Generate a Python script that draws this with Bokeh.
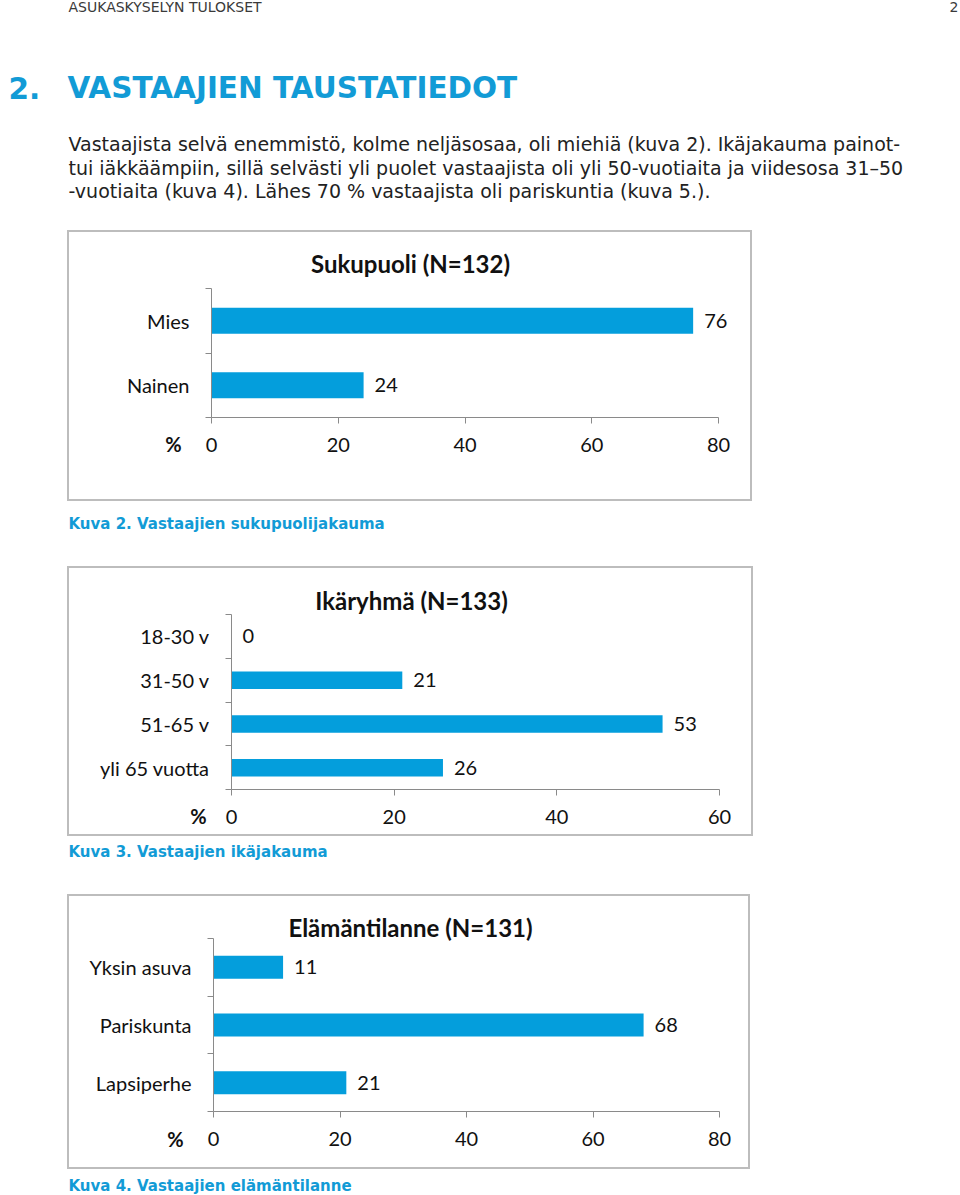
from bokeh.plotting import figure
from bokeh.models import Range1d, FixedTicker, Label, LabelSet, ColumnDataSource, Spacer
from bokeh.layouts import column, row
from bokeh.embed import file_html
from bokeh.resources import INLINE
from bokeh.core.properties import value

# ---------------- data ----------------
header_left = "ASUKASKYSELYN TULOKSET"
page_number = "2"
heading_number = "2."
heading_text = "VASTAAJIEN TAUSTATIEDOT"
paragraph_lines = [
    "Vastaajista selvä enemmistö, kolme neljäsosaa, oli miehiä (kuva 2). Ikäjakauma painot-",
    "tui iäkkäämpiin, sillä selvästi yli puolet vastaajista oli yli 50-vuotiaita ja viidesosa 31\u201350",
    "-vuotiaita (kuva 4). Lähes 70 % vastaajista oli pariskuntia (kuva 5.).",
]

gender_title = "Sukupuoli (N=132)"
gender_categories = ["Mies", "Nainen"]
gender_values = [76, 24]
gender_ticks = [0, 20, 40, 60, 80]
gender_caption = "Kuva 2. Vastaajien sukupuolijakauma"

age_title = "Ikäryhmä (N=133)"
age_categories = ["18-30 v", "31-50 v", "51-65 v", "yli 65 vuotta"]
age_values = [0, 21, 53, 26]
age_ticks = [0, 20, 40, 60]
age_caption = "Kuva 3. Vastaajien ikäjakauma"

life_title = "Elämäntilanne (N=131)"
life_categories = ["Yksin asuva", "Pariskunta", "Lapsiperhe"]
life_values = [11, 68, 21]
life_ticks = [0, 20, 40, 60, 80]
life_caption = "Kuva 4. Vastaajien elämäntilanne"

axis_unit = "%"

# ---------------- style ----------------
BAR = "#049EDC"
BLUE = "#129BD6"
AXIS = "#8A8A8A"
BOX = "#BDBDBD"
INK = "#111111"
CHART_FONT = "Lato"
DOC_FONT = "DejaVu Sans"
PAGE_W = 960
BW = 2  # box border width


def text_fig(h):
    p = figure(width=PAGE_W, height=h, x_range=Range1d(0, PAGE_W), y_range=Range1d(h, 0),
               output_backend="svg", toolbar_location=None,
               x_axis_location=None, y_axis_location=None, min_border=0)
    p.grid.visible = False
    p.outline_line_color = None
    p.background_fill_color = "white"
    p.border_fill_color = "white"
    return p


# ---------------- header ----------------
header = text_fig(230)
header.text(x=[68], y=[6], text=[header_left], text_font=value(DOC_FONT),
            text_font_size="14px", text_color="#3a3a3a", text_baseline="middle")
header.text(x=[958], y=[6], text=[page_number], text_font=value(DOC_FONT),
            text_font_size="14px", text_color="#3a3a3a", text_baseline="middle",
            text_align="right")
header.text(x=[8], y=[87], text=[heading_number], text_font=value(DOC_FONT),
            text_font_size="29.5px", text_font_style="bold", text_color=BLUE,
            text_baseline="middle")
header.text(x=[67], y=[87], text=[heading_text], text_font=value(DOC_FONT),
            text_font_size="29.5px", text_font_style="bold", text_color=BLUE,
            text_baseline="middle")
header.text(x=[68] * len(paragraph_lines), y=[143, 167, 190], text=paragraph_lines,
            text_font=value(DOC_FONT), text_font_size="19px", text_color="#222222",
            text_baseline="middle")


def caption_fig(h, cy, txt):
    p = text_fig(h)
    p.text(x=[68], y=[cy], text=[txt], text_font=value(DOC_FONT), text_font_size="15px",
           text_font_style="bold", text_color=BLUE, text_baseline="middle")
    return p


def bar_chart(title, cats, vals, ticks, box, frame, title_xy, pct_xy):
    """box = (left, top, right, bottom) outer page px; frame = (x0, x1, ytop, yaxis) page px"""
    bl, bt, br, bb = box
    fw, fh = br - bl, bb - bt
    ox, oy = bl + BW, bt + BW          # canvas origin on the page
    cw, ch = fw, fh                    # canvas size (clipped inside the border)
    n = len(cats)
    tmin, tmax = ticks[0], ticks[-1]
    fx0, fx1 = frame[0] - ox, frame[1] - ox
    ft, fb = frame[2] - oy, frame[3] - oy
    sx = (fx1 - fx0) / (tmax - tmin)
    sy = (fb - ft) / n
    xr = Range1d(tmin - fx0 / sx, tmax + (cw - fx1) / sx)
    yr = Range1d(-(ch - fb) / sy, n + ft / sy)

    ypos = [n - 1 - i + 0.5 for i in range(n)]
    p = figure(width=fw, height=fh, output_backend="svg", toolbar_location=None,
               x_range=xr, y_range=yr, min_border=0)
    p.outline_line_color = None
    p.grid.visible = False
    p.background_fill_color = "white"
    p.border_fill_color = "white"
    src = ColumnDataSource(dict(y=ypos, v=vals, label=[str(v) for v in vals]))
    p.hbar(y="y", right="v", left=0, height=0.4, source=src,
           fill_color=BAR, line_color=None)
    p.add_layout(LabelSet(x="v", y="y", text="label", source=src, x_offset=11,
                          text_baseline="middle", text_font=value(CHART_FONT),
                          text_font_size="20px", text_color=INK))
    xa = p.xaxis[0]
    xa.fixed_location = 0
    xa.bounds = (tmin, tmax)
    xa.ticker = FixedTicker(ticks=ticks)
    xa.axis_line_color = AXIS
    xa.major_tick_line_color = AXIS
    xa.major_tick_in = 0
    xa.major_tick_out = 6
    xa.minor_tick_line_color = None
    xa.major_label_text_font = CHART_FONT
    xa.major_label_text_font_size = "20px"
    xa.major_label_text_color = INK
    xa.major_label_standoff = 14
    ya = p.yaxis[0]
    ya.fixed_location = 0
    ya.bounds = (0, n)
    ya.ticker = FixedTicker(ticks=ypos, minor_ticks=list(range(n + 1)))
    ya.major_label_overrides = {y: c for y, c in zip(ypos, cats)}
    ya.axis_line_color = AXIS
    ya.major_tick_line_color = None
    ya.major_tick_in = 0
    ya.major_tick_out = 0
    ya.minor_tick_line_color = AXIS
    ya.minor_tick_in = 0
    ya.minor_tick_out = 6
    ya.major_label_text_font = CHART_FONT
    ya.major_label_text_font_size = "20px"
    ya.major_label_text_color = INK
    ya.major_label_standoff = 16
    p.add_layout(Label(x=title_xy[0] - ox, y=ch - (title_xy[1] - oy),
                       x_units="screen", y_units="screen",
                       text=title, text_align="center", text_baseline="middle",
                       text_font=CHART_FONT, text_font_size="24px",
                       text_font_style="bold", text_color=INK))
    p.add_layout(Label(x=pct_xy[0] - ox, y=ch - (pct_xy[1] - oy),
                       x_units="screen", y_units="screen",
                       text=axis_unit, text_align="center", text_baseline="middle",
                       text_font=CHART_FONT, text_font_size="20px",
                       text_font_style="bold", text_color=INK))
    p.styles = {"border": f"{BW}px solid {BOX}"}
    return p


c1 = bar_chart(gender_title, gender_categories, gender_values, gender_ticks,
               (67, 230, 752, 501), (211, 718, 288, 417), (410, 263), (173, 443))
c2 = bar_chart(age_title, age_categories, age_values, age_ticks,
               (67, 566, 753, 836), (231, 719, 614, 789), (411, 600), (198, 815))
c3 = bar_chart(life_title, life_categories, life_values, life_ticks,
               (67, 894, 750, 1169), (213, 719, 938, 1111), (410, 927), (175, 1138))

layout = column(
    header,
    row(Spacer(width=67, height=271), c1),
    caption_fig(65, 22, gender_caption),
    row(Spacer(width=67, height=270), c2),
    caption_fig(58, 15, age_caption),
    row(Spacer(width=67, height=275), c3),
    caption_fig(26, 16, life_caption),
)

open("out.html", "w").write(file_html(layout, INLINE))
